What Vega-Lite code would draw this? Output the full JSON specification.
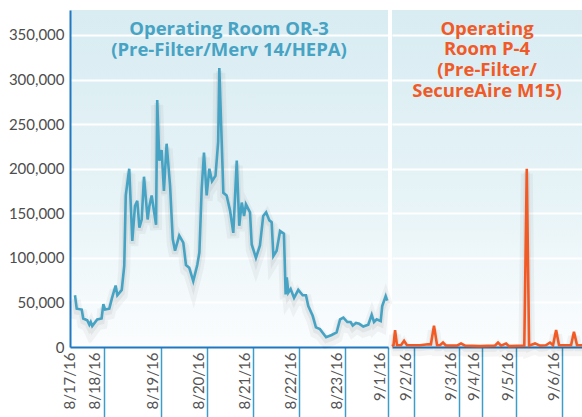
{
  "$schema": "https://vega.github.io/schema/vega-lite/v6.json",
  "padding": {"left": 8, "top": 10, "right": 0, "bottom": 0},
  "autosize": {"type": "pad"},
  "spacing": 4,
  "bounds": "flush",
  "background": "white",
  "config": {
    "view": {
      "stroke": null,
      "fill": {"gradient": "linear", "x1": 0, "y1": 0, "x2": 0, "y2": 1, "stops": [{"offset": 0, "color": "#d8ecf2"}, {"offset": 0.55, "color": "#e6f3f7"}, {"offset": 1, "color": "#fbfdfe"}]}
    },
    "concat": {"spacing": 4},
    "font": "Lato"
  },
  "datasets": {
    "or3": [
      {"h": 2.6, "v": 58000}, {"h": 3.5, "v": 43000}, {"h": 6.1, "v": 42000}, {"h": 6.9, "v": 32000},
      {"h": 9.0, "v": 30000}, {"h": 10.1, "v": 25000}, {"h": 10.8, "v": 28000}, {"h": 11.6, "v": 23500},
      {"h": 14.2, "v": 31000}, {"h": 16.5, "v": 32000}, {"h": 17.4, "v": 48000}, {"h": 18.3, "v": 42000},
      {"h": 20.5, "v": 43000}, {"h": 21.8, "v": 54000}, {"h": 23.8, "v": 69000}, {"h": 24.7, "v": 58000},
      {"h": 27.0, "v": 64000}, {"h": 28.3, "v": 91000}, {"h": 29.1, "v": 170000}, {"h": 30.9, "v": 200000},
      {"h": 32.5, "v": 119000}, {"h": 33.9, "v": 158000}, {"h": 35.1, "v": 164000}, {"h": 36.2, "v": 134000},
      {"h": 37.4, "v": 143000}, {"h": 38.6, "v": 191000}, {"h": 40.5, "v": 143000}, {"h": 41.4, "v": 158000},
      {"h": 42.6, "v": 170000}, {"h": 44.9, "v": 137000}, {"h": 45.5, "v": 277000}, {"h": 46.6, "v": 209000},
      {"h": 47.8, "v": 221000}, {"h": 49.0, "v": 175000}, {"h": 50.4, "v": 228000}, {"h": 52.2, "v": 181000},
      {"h": 53.6, "v": 121000}, {"h": 54.8, "v": 108000}, {"h": 57.0, "v": 125000}, {"h": 59.1, "v": 117000},
      {"h": 60.5, "v": 92000}, {"h": 62.2, "v": 89000}, {"h": 64.3, "v": 74000}, {"h": 66.4, "v": 92000},
      {"h": 67.5, "v": 106000}, {"h": 68.7, "v": 177000}, {"h": 69.9, "v": 218000}, {"h": 71.3, "v": 170000},
      {"h": 72.7, "v": 200000}, {"h": 74.1, "v": 186000}, {"h": 75.9, "v": 192000}, {"h": 77.3, "v": 230000},
      {"h": 77.9, "v": 313000}, {"h": 79.1, "v": 233000}, {"h": 80.0, "v": 173000}, {"h": 81.7, "v": 170000},
      {"h": 83.5, "v": 153000}, {"h": 85.2, "v": 128000}, {"h": 87.0, "v": 209000}, {"h": 88.3, "v": 136000},
      {"h": 89.6, "v": 162000}, {"h": 90.8, "v": 147000}, {"h": 91.8, "v": 160000}, {"h": 93.9, "v": 151000},
      {"h": 94.8, "v": 115000}, {"h": 97.0, "v": 100000}, {"h": 99.1, "v": 114000}, {"h": 100.8, "v": 147000},
      {"h": 102.3, "v": 151000}, {"h": 104.0, "v": 142000}, {"h": 105.2, "v": 140000}, {"h": 106.1, "v": 102000},
      {"h": 107.8, "v": 108000}, {"h": 109.6, "v": 130000}, {"h": 111.6, "v": 127000}, {"h": 112.5, "v": 59000},
      {"h": 113.1, "v": 78000}, {"h": 113.9, "v": 61000}, {"h": 115.1, "v": 65000}, {"h": 116.9, "v": 55000},
      {"h": 119.1, "v": 64000}, {"h": 121.4, "v": 58000}, {"h": 123.1, "v": 58000}, {"h": 124.3, "v": 46000},
      {"h": 126.6, "v": 35000}, {"h": 128.3, "v": 22000}, {"h": 130.4, "v": 20000}, {"h": 133.6, "v": 11000},
      {"h": 136.5, "v": 13500}, {"h": 139.1, "v": 16500}, {"h": 140.9, "v": 31000}, {"h": 142.6, "v": 33000},
      {"h": 144.7, "v": 28000}, {"h": 146.4, "v": 28000}, {"h": 147.5, "v": 24000}, {"h": 149.2, "v": 27000},
      {"h": 150.9, "v": 26000}, {"h": 153.0, "v": 23000}, {"h": 155.6, "v": 25000}, {"h": 157.4, "v": 36000},
      {"h": 158.6, "v": 28000}, {"h": 160.0, "v": 31000}, {"h": 162.1, "v": 29000}, {"h": 162.9, "v": 46000},
      {"h": 164.7, "v": 57000}, {"h": 165.5, "v": 52000}
    ],
    "p4": [
      {"h": 0, "v": 1000}, {"h": 0.8, "v": 2000}, {"h": 1.6, "v": 19000}, {"h": 2.6, "v": 2000},
      {"h": 4.7, "v": 2000}, {"h": 6.3, "v": 7000}, {"h": 7.8, "v": 2000}, {"h": 14.6, "v": 2000},
      {"h": 18.8, "v": 3000}, {"h": 20.3, "v": 3000}, {"h": 21.9, "v": 24000}, {"h": 23.5, "v": 2000},
      {"h": 25.0, "v": 2000}, {"h": 26.6, "v": 5000}, {"h": 28.2, "v": 1500}, {"h": 33.9, "v": 1500},
      {"h": 36.0, "v": 4000}, {"h": 38.1, "v": 1500}, {"h": 45.9, "v": 1000}, {"h": 53.7, "v": 1500},
      {"h": 55.3, "v": 5000}, {"h": 56.9, "v": 1500}, {"h": 59.5, "v": 4000}, {"h": 61.0, "v": 1000},
      {"h": 69.0, "v": 1500}, {"h": 70.3, "v": 200000}, {"h": 71.5, "v": 1500}, {"h": 74.6, "v": 4000},
      {"h": 77.2, "v": 1500}, {"h": 80.3, "v": 2000}, {"h": 82.4, "v": 5000}, {"h": 84.0, "v": 2000},
      {"h": 85.6, "v": 19000}, {"h": 87.1, "v": 2000}, {"h": 91.3, "v": 2000}, {"h": 93.4, "v": 2000},
      {"h": 94.9, "v": 17000}, {"h": 96.5, "v": 2000}, {"h": 99.1, "v": 2000}
    ],
    "titles": [
      {"panel": "OR-3", "label": ["Operating Room OR-3", "(Pre-Filter/Merv 14/HEPA)"]},
      {"panel": "P-4", "label": ["Operating", "Room P-4", "(Pre-Filter/", "SecureAire M15)"]}
    ]
  },
  "hconcat": [
    {
      "width": 318,
      "height": 337,
      "layer": [
        {
          "data": {"name": "or3"},
          "mark": {"type": "line", "color": "#000000", "opacity": 0.04, "strokeWidth": 12, "yOffset": 5},
          "encoding": {
            "x": {
              "field": "h", "type": "quantitative",
              "scale": {"domain": [0, 165.9], "nice": false, "zero": false},
              "axis": {
                "values": [4.2, 17.7, 47.5, 71.5, 95.5, 119.5, 143.5, 165.9],
                "labelExpr": "datum.value < 5 ? '8/17/16' : datum.value < 20 ? '8/18/16' : datum.value < 50 ? '8/19/16' : datum.value < 80 ? '8/20/16' : datum.value < 100 ? '8/21/16' : datum.value < 130 ? '8/22/16' : datum.value < 150 ? '8/23/16' : '9/1/16'",
                "title": null, "grid": false, "labelAngle": -90, "labelOffset": -9,
                "tickSize": 70, "labelPadding": -65, "tickWidth": 1.5,
                "tickColor": {"condition": {"test": "datum.value < 5", "value": "transparent"}, "value": "#3c9dc8"},
                "domainColor": "#1f78c0", "domainWidth": 2,
                "labelFontSize": 15, "labelColor": "#555555", "labelFont": "Lato",
                "labelFlush": false, "labelOverlap": false, "labelBound": false
              }
            },
            "y": {
              "field": "v", "type": "quantitative",
              "scale": {"domain": [0, 378000], "nice": false},
              "axis": {
                "values": [0, 50000, 100000, 150000, 200000, 250000, 300000, 350000],
                "format": ",.0f", "title": null, "ticks": false,
                "domainColor": "#1f78c0", "domainWidth": 2,
                "gridColor": "#ffffff", "gridWidth": 2,
                "labelFontSize": 15, "labelColor": "#4d4d4d", "labelFont": "Lato", "labelPadding": 6
              }
            }
          }
        },
        {
          "data": {"name": "or3"},
          "mark": {"type": "line", "color": "#000000", "opacity": 0.05, "strokeWidth": 6, "yOffset": 3},
          "encoding": {"x": {"field": "h", "type": "quantitative"}, "y": {"field": "v", "type": "quantitative"}}
        },
        {
          "data": {"name": "or3"},
          "mark": {"type": "line", "color": "#47a3c3", "strokeWidth": 2.6},
          "encoding": {"x": {"field": "h", "type": "quantitative"}, "y": {"field": "v", "type": "quantitative"}}
        },
        {
          "data": {"name": "titles"},
          "transform": [{"filter": "datum.panel == 'OR-3'"}],
          "mark": {
            "type": "text", "color": "#47a3c3", "font": "Open Sans", "fontSize": 18.5, "fontWeight": "bold",
            "align": "center", "baseline": "alphabetic", "lineHeight": 21
          },
          "encoding": {
            "text": {"field": "label"},
            "x": {"datum": 82.95, "type": "quantitative"},
            "y": {"datum": 350000, "type": "quantitative"}
          }
        }
      ]
    },
    {
      "width": 190,
      "height": 337,
      "layer": [
        {
          "data": {"name": "p4"},
          "mark": {"type": "line", "color": "#000000", "opacity": 0.04, "strokeWidth": 12, "yOffset": 5},
          "encoding": {
            "x": {
              "field": "h", "type": "quantitative",
              "scale": {"domain": [0, 99.1], "nice": false, "zero": false},
              "axis": {
                "values": [11.5, 35, 47, 64.7, 88.7],
                "labelExpr": "datum.value < 20 ? '9/2/16' : datum.value < 40 ? '9/3/16' : datum.value < 50 ? '9/4/16' : datum.value < 70 ? '9/5/16' : '9/6/16'",
                "title": null, "grid": false, "labelAngle": -90, "labelOffset": -9,
                "tickSize": 70, "labelPadding": -65, "tickWidth": 1.5, "tickColor": "#3c9dc8",
                "domainColor": "#1f78c0", "domainWidth": 2,
                "labelFontSize": 15, "labelColor": "#555555", "labelFont": "Lato",
                "labelFlush": false, "labelOverlap": false, "labelBound": false
              }
            },
            "y": {
              "field": "v", "type": "quantitative",
              "scale": {"domain": [0, 378000], "nice": false},
              "axis": {
                "values": [0, 50000, 100000, 150000, 200000, 250000, 300000, 350000],
                "orient": "right",
                "title": null, "ticks": false, "labels": false, "domain": false, "minExtent": 0,
                "gridColor": "#ffffff", "gridWidth": 2
              }
            }
          }
        },
        {
          "data": {"name": "p4"},
          "mark": {"type": "line", "color": "#000000", "opacity": 0.05, "strokeWidth": 6, "yOffset": 3},
          "encoding": {"x": {"field": "h", "type": "quantitative"}, "y": {"field": "v", "type": "quantitative"}}
        },
        {
          "data": {"name": "p4"},
          "mark": {"type": "line", "color": "#f15a24", "strokeWidth": 2.6},
          "encoding": {"x": {"field": "h", "type": "quantitative"}, "y": {"field": "v", "type": "quantitative"}}
        },
        {
          "data": {"name": "titles"},
          "transform": [{"filter": "datum.panel == 'P-4'"}],
          "mark": {
            "type": "text", "color": "#f05a28", "font": "Open Sans", "fontSize": 18.5, "fontWeight": "bold",
            "align": "center", "baseline": "alphabetic", "lineHeight": 20.8
          },
          "encoding": {
            "text": {"field": "label"},
            "x": {"datum": 49.55, "type": "quantitative"},
            "y": {"datum": 350500, "type": "quantitative"}
          }
        }
      ]
    }
  ]
}
